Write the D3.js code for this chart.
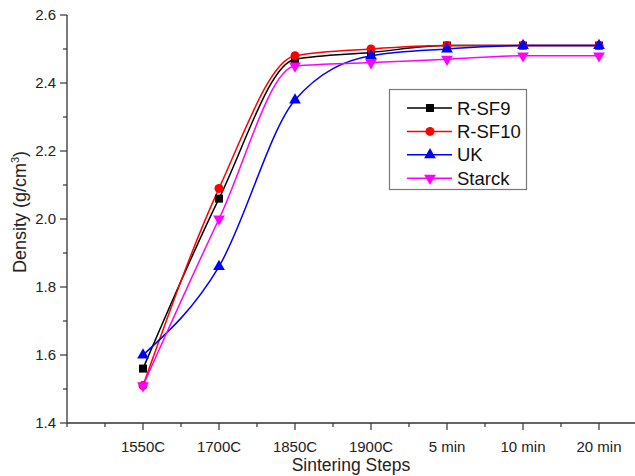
<!DOCTYPE html>
<html><head><meta charset="utf-8">
<script src="https://cdn.jsdelivr.net/npm/d3@7"></script>
<style>body{margin:0;background:#fff}svg{display:block;font-family:Arial,"Liberation Sans",sans-serif}</style>
</head><body><svg id="c" width="635" height="476"></svg>
<script>
const categories = ["1550C","1700C","1850C","1900C","5 min","10 min","20 min"];
const rsf9   = [1.56, 2.06, 2.47, 2.49, 2.51, 2.51, 2.51];
const rsf10  = [1.51, 2.09, 2.48, 2.50, 2.51, 2.51, 2.51];
const uk     = [1.60, 1.86, 2.35, 2.48, 2.50, 2.51, 2.51];
const starck = [1.51, 2.00, 2.45, 2.46, 2.47, 2.48, 2.48];
const seriesNames = ["R-SF9","R-SF10","UK","Starck"];
const yTicks = [1.4,1.6,1.8,2.0,2.2,2.4,2.6];

const series = [
  {name:seriesNames[0], values:rsf9, color:"#000000", sym:d3.symbolSquare, size:64, rot:0},
  {name:seriesNames[1], values:rsf10, color:"#ff0000", sym:d3.symbolCircle, size:64, rot:0},
  {name:seriesNames[2], values:uk, color:"#0000ff", sym:d3.symbolTriangle, size:60, rot:0},
  {name:seriesNames[3], values:starck, color:"#ff00ff", sym:d3.symbolTriangle, size:60, rot:180}
];

const svg = d3.select("#c");
const x = d3.scaleLinear().domain([-1, 7]).range([67, 675]);
const y = d3.scaleLinear().domain([1.4, 2.6]).range([423, 15]);
const axisColor = "#333";

// Y axis
const gy = svg.append("g");
gy.append("line").attr("x1",67).attr("x2",67).attr("y1",y(2.6)).attr("y2",y(1.4)).attr("stroke",axisColor).attr("stroke-width",1.3);
const yMinor = d3.range(1.5, 2.6, 0.2);
gy.selectAll(".ym").data(yMinor).enter().append("line")
  .attr("x1",63).attr("x2",67).attr("y1",d=>y(d)).attr("y2",d=>y(d)).attr("stroke",axisColor).attr("stroke-width",1.2);
gy.selectAll(".yM").data(yTicks).enter().append("line")
  .attr("x1",60).attr("x2",67).attr("y1",d=>y(d)).attr("y2",d=>y(d)).attr("stroke",axisColor).attr("stroke-width",1.2);
gy.selectAll("text").data(yTicks).enter().append("text")
  .attr("x",56).attr("y",d=>y(d)+5).attr("text-anchor","end").attr("font-size",15).attr("fill","#222")
  .text(d=>d.toFixed(1));

// X axis
const gx = svg.append("g");
gx.append("line").attr("x1",67).attr("x2",635).attr("y1",423).attr("y2",423).attr("stroke",axisColor).attr("stroke-width",1.3);
const xMinor = d3.range(-1, 7.01, 1).concat(d3.range(-0.5, 7, 1)).filter(d=>d<0 || d>6 || d%1!==0);
gx.selectAll(".xm").data(xMinor).enter().append("line")
  .attr("x1",d=>x(d)).attr("x2",d=>x(d)).attr("y1",423).attr("y2",427).attr("stroke",axisColor).attr("stroke-width",1.2);
gx.selectAll(".xM").data(categories).enter().append("line")
  .attr("x1",(d,i)=>x(i)).attr("x2",(d,i)=>x(i)).attr("y1",423).attr("y2",430).attr("stroke",axisColor).attr("stroke-width",1.2);
gx.selectAll("text").data(categories).enter().append("text")
  .attr("x",(d,i)=>x(i)).attr("y",452).attr("text-anchor","middle").attr("font-size",15).attr("fill","#222")
  .text(d=>d);

// titles
svg.append("text").attr("x",351).attr("y",471).attr("text-anchor","middle").attr("font-size",17.5).attr("fill","#222").text("Sintering Steps");
const yt = svg.append("text").attr("transform","translate(26,212) rotate(-90)").attr("text-anchor","middle").attr("font-size",18).attr("fill","#222");
yt.append("tspan").text("Density (g/cm");
yt.append("tspan").attr("font-size",11).attr("dy",-7).text("3");
yt.append("tspan").attr("dy",7).text(")");

// lines
const line = d3.line().x((d,i)=>x(i)).y(d=>y(d)).curve(d3.curveMonotoneX);
series.forEach(s=>{
  svg.append("path").attr("d",line(s.values)).attr("fill","none").attr("stroke",s.color).attr("stroke-width",1.5);
});
series.forEach(s=>{
  svg.selectAll(null).data(s.values).enter().append("path")
    .attr("d",d3.symbol().type(s.sym).size(s.size))
    .attr("transform",(d,i)=>`translate(${x(i)},${y(d)}) rotate(${s.rot})`)
    .attr("fill",s.color);
});

// legend
const lg = svg.append("g");
lg.append("rect").attr("x",389.5).attr("y",89.5).attr("width",137).attr("height",100).attr("fill","#fff").attr("stroke","#777").attr("stroke-width",1.2);
series.forEach((s,i)=>{
  const cy = 108 + i*23.4;
  lg.append("line").attr("x1",407).attr("x2",452).attr("y1",cy).attr("y2",cy).attr("stroke",s.color).attr("stroke-width",1.5);
  lg.append("path").attr("d",d3.symbol().type(s.sym).size(s.size)).attr("transform",`translate(430,${cy}) rotate(${s.rot})`).attr("fill",s.color);
  lg.append("text").attr("x",457).attr("y",cy+6.5).attr("font-size",18.5).attr("fill","#111").text(s.name);
});
</script></body></html>
